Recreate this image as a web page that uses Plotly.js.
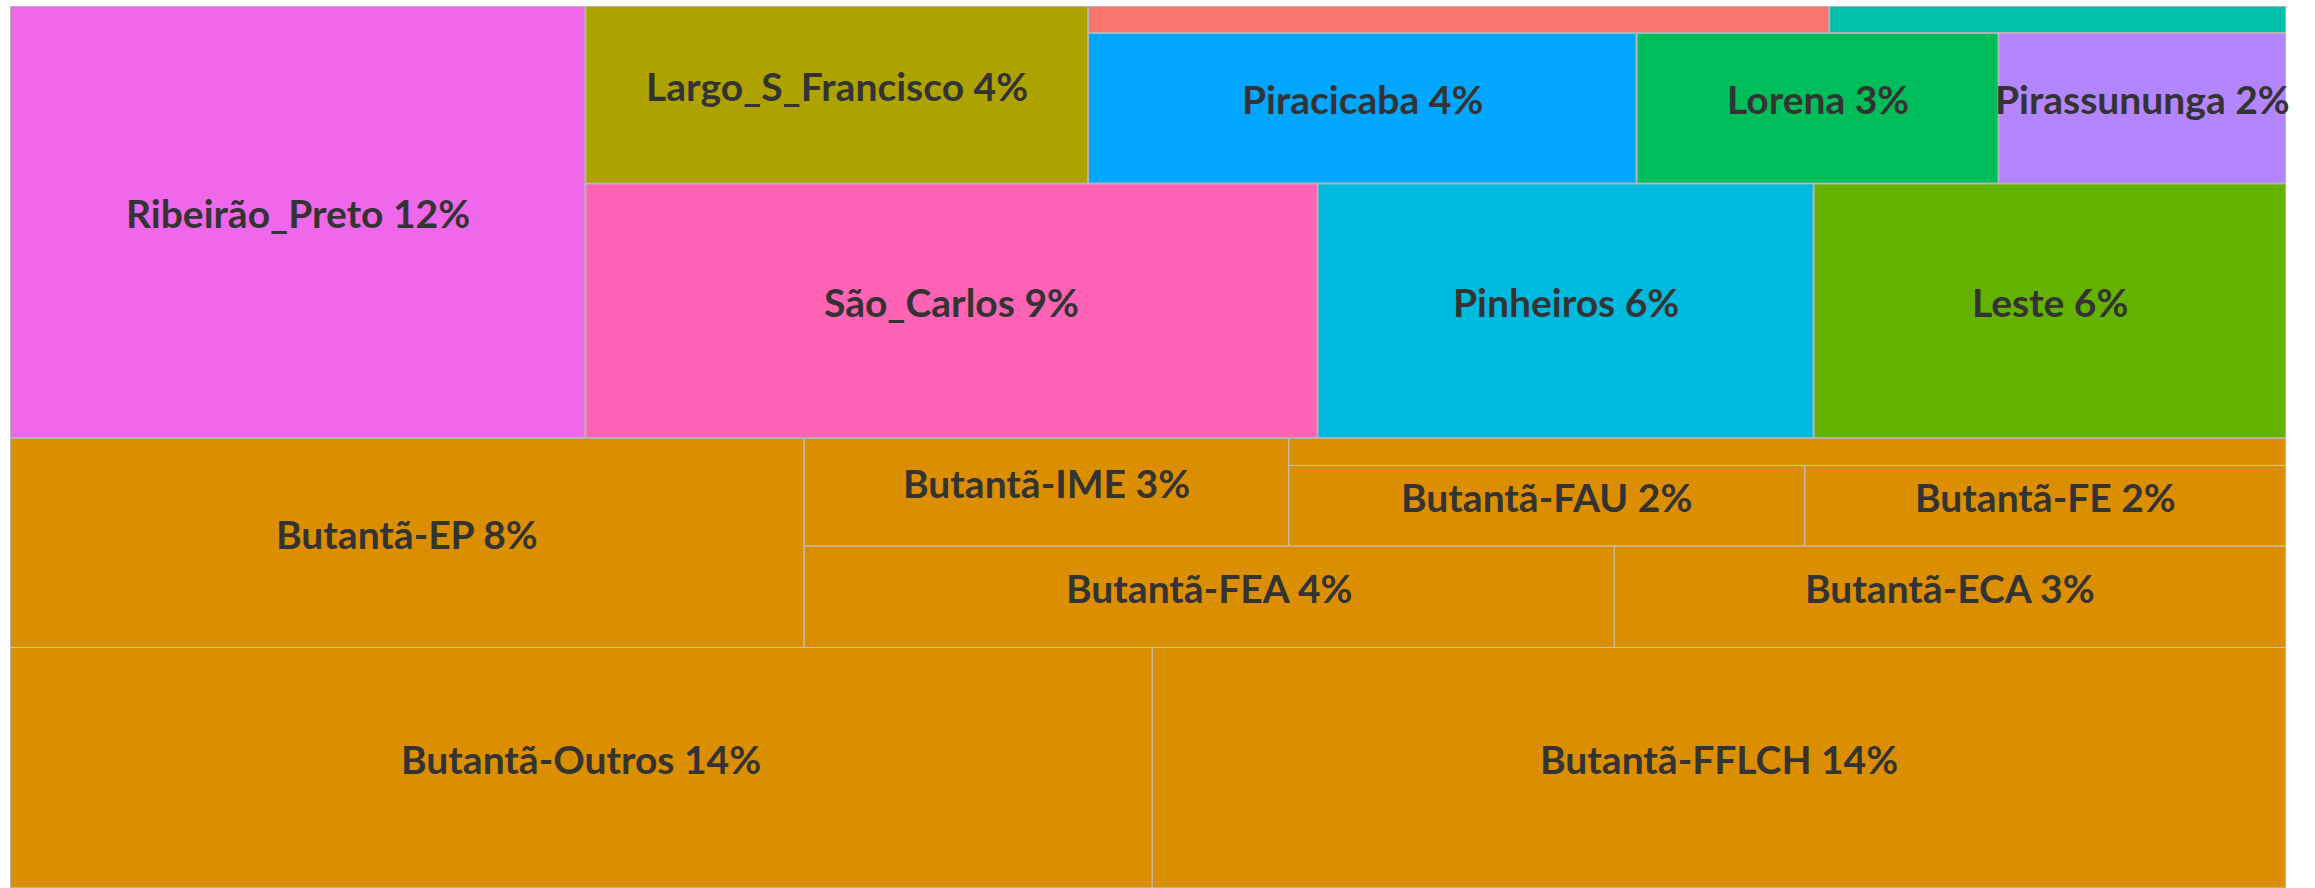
<!DOCTYPE html>
<html>
<head>
<meta charset="utf-8">
<script src="https://cdn.plot.ly/plotly-3.0.1.min.js"></script>
<style>
  html, body { margin: 0; padding: 0; background: #ffffff; }
  #chart { width: 2315px; height: 888px; }
</style>
</head>
<body>
<div id="chart"></div>
<script>
// ---------- data ----------
const campus = ['Butantã','Butantã','Butantã','Butantã','Butantã','Butantã','Butantã','Butantã','Butantã',
  'Ribeirão_Preto','São_Carlos','Pinheiros','Leste','Largo_S_Francisco','Piracicaba','Lorena','Pirassununga','Bauru','Outros'];
const unidade = ['Butantã-Outros','Butantã-FFLCH','Butantã-EP','Butantã-FEA','Butantã-ECA','Butantã-IME','Butantã-FAU','Butantã-FE','Butantã-IO',
  'Ribeirão_Preto','São_Carlos','Pinheiros','Leste','Largo_S_Francisco','Piracicaba','Lorena','Pirassununga','Bauru','Outros'];
const percentual = [13.7, 13.6, 8.28, 4.1, 3.4, 2.6, 2.07, 1.93, 1.35,
  12.4, 9.3, 6.3, 6.0, 4.45, 4.12, 2.72, 2.16, 0.99, 0.61];

// campus palette (ggplot hue palette, alphabetical order of campus)
const campusNomes = ['Bauru','Butantã','Largo_S_Francisco','Leste','Lorena','Outros','Pinheiros','Piracicaba','Pirassununga','Ribeirão_Preto','São_Carlos'];
const campusCores = ['#F8766D','#DB8E00','#AEA200','#64B200','#00BD5C','#00C1A7','#00BADE','#00A6FF','#B385FF','#EF67EB','#FF63B6'];

// ---------- layout algorithm (alternating squarified, bottom-left start) ----------
function worstRatio(row, L) {
  const s = row.reduce((a, b) => a + b, 0);
  const t = s / L;
  let w = 0;
  row.forEach(a => { const l = a / t; w = Math.max(w, l / t, t / l); });
  return w;
}
function squarifyAlt(vals) {
  const total = vals.reduce((a, b) => a + b, 0);
  const areas = vals.map(v => v / total);
  let x0 = 0, y0 = 0, x1 = 1, y1 = 1, horizontal = true;
  const out = [];
  let i = 0;
  while (i < areas.length) {
    const L = horizontal ? (x1 - x0) : (y1 - y0);
    let row = [areas[i]], worst = worstRatio(row, L), j = i + 1;
    while (j < areas.length) {
      const cand = row.concat([areas[j]]);
      const w = worstRatio(cand, L);
      if (w <= worst) { row = cand; worst = w; j++; } else break;
    }
    const s = row.reduce((a, b) => a + b, 0);
    const t = s / L;
    let pos = horizontal ? x0 : y0;
    row.forEach(a => {
      const l = a / t;
      if (horizontal) out.push({x0: pos, x1: pos + l, y0: y0, y1: y0 + t});
      else out.push({x0: x0, x1: x0 + t, y0: pos, y1: pos + l});
      pos += l;
    });
    if (horizontal) y0 += t; else x0 += t;
    horizontal = !horizontal;
    i = j;
  }
  return out;
}

const total = percentual.reduce((a, b) => a + b, 0);
// group totals
const grupoNomes = [...new Set(campus)];
const grupoValores = grupoNomes.map(g => campus.reduce((s, c, k) => s + (c === g ? percentual[k] : 0), 0));
const grupoOrdem = grupoNomes.map((g, k) => k).sort((a, b) => grupoValores[b] - grupoValores[a]);
const grupoRects = {};
squarifyAlt(grupoOrdem.map(k => grupoValores[k])).forEach((r, n) => { grupoRects[grupoNomes[grupoOrdem[n]]] = r; });

// tiles inside each group (layout normalized per group, then mapped to the group rectangle)
const tiles = [];
grupoNomes.forEach(g => {
  const idx = campus.map((c, k) => k).filter(k => campus[k] === g).sort((a, b) => percentual[b] - percentual[a]);
  const gr = grupoRects[g];
  squarifyAlt(idx.map(k => percentual[k])).forEach((r, n) => {
    const k = idx[n];
    tiles.push({
      k: k, group: g,
      x0: gr.x0 + r.x0 * (gr.x1 - gr.x0), x1: gr.x0 + r.x1 * (gr.x1 - gr.x0),
      y0: gr.y0 + r.y0 * (gr.y1 - gr.y0), y1: gr.y0 + r.y1 * (gr.y1 - gr.y0)
    });
  });
});

// ---------- figure ----------
const W = 2315, H = 888;
const margin = {l: 10, r: 29, t: 6, b: 0, pad: 0};
const plotH = H - margin.t - margin.b;
const fontSize = 39;

const traces = [];
grupoNomes.forEach(g => {
  const xs = [], ys = [];
  tiles.filter(t => t.group === g).forEach(t => {
    xs.push(t.x0, t.x1, t.x1, t.x0, t.x0, null);
    ys.push(t.y0, t.y0, t.y1, t.y1, t.y0, null);
  });
  traces.push({
    type: 'scatter', mode: 'lines', x: xs, y: ys, fill: 'toself',
    fillcolor: campusCores[campusNomes.indexOf(g)],
    line: {color: '#C4C4C4', width: 0.8}, hoverinfo: 'skip', showlegend: false
  });
});
// group borders
const gx = [], gy = [];
grupoNomes.forEach(g => {
  const r = grupoRects[g];
  gx.push(r.x0, r.x1, r.x1, r.x0, r.x0, null);
  gy.push(r.y0, r.y0, r.y1, r.y1, r.y0, null);
});
traces.push({type: 'scatter', mode: 'lines', x: gx, y: gy, line: {color: '#B5B5B5', width: 1.6},
  hoverinfo: 'skip', showlegend: false, cliponaxis: false});

// labels
const annotations = [];
tiles.forEach(t => {
  const hPx = (t.y1 - t.y0) * plotH;
  if (hPx < fontSize * 1.2) return;   // too small: label hidden, as in the reference
  const pct = Math.round(percentual[t.k] / total * 100);
  annotations.push({
    x: (t.x0 + t.x1) / 2, y: (t.y0 + t.y1) / 2, xref: 'x', yref: 'y',
    text: unidade[t.k] + ' ' + pct + '%', showarrow: false, yshift: 9,
    font: {family: 'Lato, sans-serif', size: fontSize, color: '#333333', weight: 'bold'}
  });
});

const layout = {
  width: W, height: H, margin: margin,
  paper_bgcolor: '#ffffff', plot_bgcolor: '#ffffff',
  xaxis: {range: [0, 1], visible: false, fixedrange: true},
  yaxis: {range: [0, 1], visible: false, fixedrange: true},
  annotations: annotations, showlegend: false
};
Plotly.newPlot('chart', traces, layout, {displayModeBar: false, staticPlot: true});
</script>
</body>
</html>
